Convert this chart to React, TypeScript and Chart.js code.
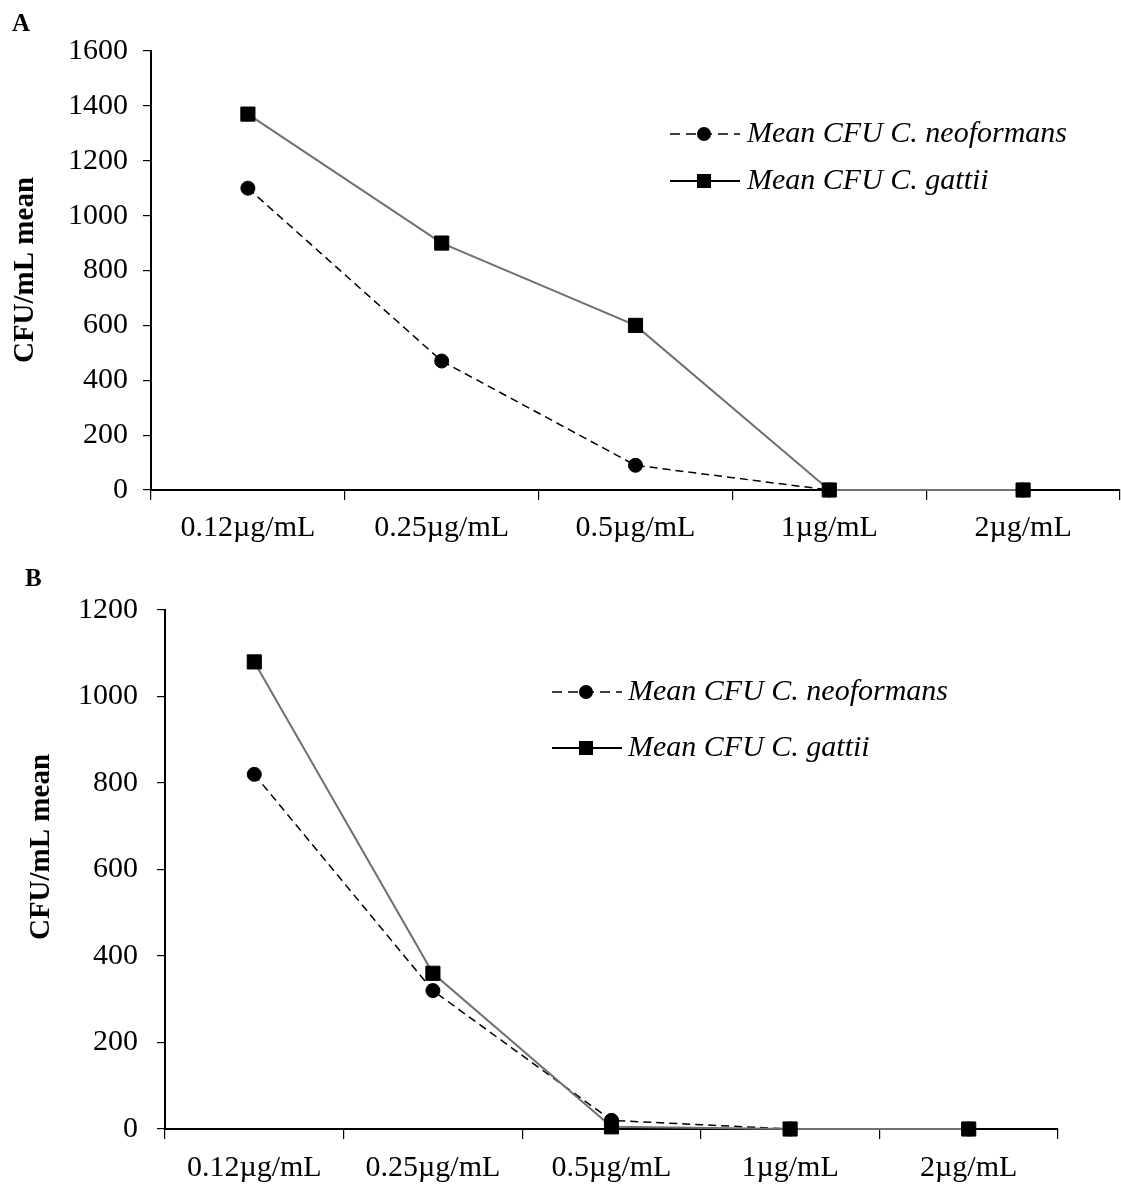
import { useEffect, useRef } from 'react';
import { Chart, registerables } from 'chart.js';

Chart.register(...registerables);

const categories = ['0.12µg/mL', '0.25µg/mL', '0.5µg/mL', '1µg/mL', '2µg/mL'];
const seriesLabels = ['Mean CFU C. neoformans', 'Mean CFU C. gattii'];
const neoformansA = [1100, 470, 90, 0, 0];
const gattiiA = [1370, 900, 600, 0, 0];
const neoformansB = [820, 320, 20, 0, 0];
const gattiiB = [1080, 360, 5, 0, 0];
const yMaxA = 1600;
const yMaxB = 1200;
const yStep = 200;
const yTitle = 'CFU/mL mean';

const SERIF = '"Liberation Serif", "Times New Roman", serif';
const NEO_DASH = [8, 5];

type PanelCfg = {
  letter: string;
  letterX: number;
  letterY: number;
  titleX: number;
  titleY: number;
  legendX: number;
  legendY1: number;
  legendY2: number;
  legendTextX: number;
};

function overlayPlugin(cfg: PanelCfg) {
  return {
    id: 'overlay' + cfg.letter,
    afterDraw(chart: any) {
      const ctx: CanvasRenderingContext2D = chart.ctx;
      ctx.save();
      ctx.fillStyle = '#000';
      ctx.font = `bold 25px ${SERIF}`;
      ctx.textAlign = 'left';
      ctx.textBaseline = 'alphabetic';
      ctx.fillText(cfg.letter, cfg.letterX, cfg.letterY);

      ctx.save();
      ctx.translate(cfg.titleX, cfg.titleY);
      ctx.rotate(-Math.PI / 2);
      ctx.textAlign = 'center';
      ctx.textBaseline = 'middle';
      ctx.font = `bold 29px ${SERIF}`;
      ctx.fillText(yTitle, 0, 0);
      ctx.restore();

      // legend
      const rows = [cfg.legendY1, cfg.legendY2];
      rows.forEach((y, i) => {
        const x0 = cfg.legendX;
        const x1 = x0 + 70;
        const mx = x0 + 34;
        ctx.save();
        ctx.strokeStyle = '#000';
        ctx.lineWidth = i === 0 ? 1.5 : 2;
        ctx.setLineDash(i === 0 ? [10, 6] : []);
        ctx.beginPath();
        ctx.moveTo(x0, y);
        ctx.lineTo(x1, y);
        ctx.stroke();
        ctx.setLineDash([]);
        ctx.fillStyle = '#000';
        if (i === 0) {
          ctx.beginPath();
          ctx.arc(mx, y, 7, 0, Math.PI * 2);
          ctx.fill();
        } else {
          ctx.fillRect(mx - 7, y - 7, 14, 14);
        }
        ctx.font = `italic 30px ${SERIF}`;
        ctx.textAlign = 'left';
        ctx.textBaseline = 'middle';
        ctx.fillText(seriesLabels[i], cfg.legendTextX, y);
        ctx.restore();
      });
      ctx.restore();
    },
  };
}

function makeConfig(
  neo: number[],
  gat: number[],
  yMax: number,
  yWidth: number,
  yPad: number,
  xHeight: number,
  xPad: number,
  top: number,
  right: number,
  cfg: PanelCfg
): any {
  return {
    type: 'line',
    data: {
      labels: categories,
      datasets: [
        {
          label: seriesLabels[0],
          data: neo,
          borderColor: '#000',
          borderWidth: 1.5,
          borderDash: NEO_DASH,
          pointStyle: 'circle',
          pointRadius: 7,
          pointBackgroundColor: '#000',
          pointBorderColor: '#000',
          pointBorderWidth: 1,
          tension: 0,
          clip: false,
          order: 1,
        },
        {
          label: seriesLabels[1],
          data: gat,
          borderColor: '#707070',
          borderWidth: 2,
          pointStyle: 'rect',
          pointRadius: 10,
          pointBackgroundColor: '#000',
          pointBorderColor: '#000',
          pointBorderWidth: 1,
          tension: 0,
          clip: false,
          order: 0,
        },
      ],
    },
    options: {
      responsive: false,
      animation: false,
      devicePixelRatio: 1,
      layout: { autoPadding: false, padding: { left: 0, right: right, top: top, bottom: 0 } },
      plugins: { legend: { display: false }, tooltip: { enabled: false }, title: { display: false } },
      scales: {
        x: {
          type: 'category',
          offset: true,
          grid: {
            offset: true,
            drawOnChartArea: false,
            drawTicks: true,
            tickLength: 10,
            color: '#000',
            lineWidth: 1.2,
          },
          border: { color: '#000', width: 2 },
          ticks: {
            color: '#000',
            font: { family: SERIF, size: 30 },
            padding: xPad,
            maxRotation: 0,
            autoSkip: false,
          },
          afterFit: (s: any) => {
            s.height = xHeight;
            s.paddingLeft = 0;
            s.paddingRight = 0;
          },
        },
        y: {
          min: 0,
          max: yMax,
          grid: {
            drawOnChartArea: false,
            drawTicks: true,
            tickLength: 8,
            color: '#000',
            lineWidth: 1.2,
          },
          border: { color: '#000', width: 2 },
          ticks: {
            stepSize: yStep,
            color: '#000',
            font: { family: SERIF, size: 30 },
            padding: yPad,
            callback: (v: any) => String(v),
          },
          afterFit: (s: any) => {
            s.width = yWidth;
          },
        },
      },
    },
    plugins: [overlayPlugin(cfg)],
  };
}

export default function App() {
  const refA = useRef<HTMLCanvasElement | null>(null);
  const refB = useRef<HTMLCanvasElement | null>(null);

  useEffect(() => {
    const charts: Chart[] = [];
    if (refA.current) {
      charts.push(
        new Chart(
          refA.current,
          makeConfig(neoformansA, gattiiA, yMaxA, 151, 15, 70, 10, 51, 1, {
            letter: 'A',
            letterX: 12,
            letterY: 31,
            titleX: 26,
            titleY: 270,
            legendX: 670,
            legendY1: 134,
            legendY2: 181,
            legendTextX: 747,
          })
        )
      );
    }
    if (refB.current) {
      charts.push(
        new Chart(
          refB.current,
          makeConfig(neoformansB, gattiiB, yMaxB, 165, 19, 56, 11, 50, 63, {
            letter: 'B',
            letterX: 25,
            letterY: 26,
            titleX: 42,
            titleY: 287,
            legendX: 552,
            legendY1: 132,
            legendY2: 188,
            legendTextX: 628,
          })
        )
      );
    }
    return () => {
      charts.forEach((c) => c.destroy());
    };
  }, []);

  return (
    <div style={{ position: 'absolute', left: 0, top: 0, width: 1121, height: 1185, background: '#fff' }}>
      <canvas ref={refA} width={1121} height={560} style={{ position: 'absolute', left: 0, top: 0, display: 'block' }} />
      <canvas ref={refB} width={1121} height={625} style={{ position: 'absolute', left: 0, top: 560, display: 'block' }} />
    </div>
  );
}
